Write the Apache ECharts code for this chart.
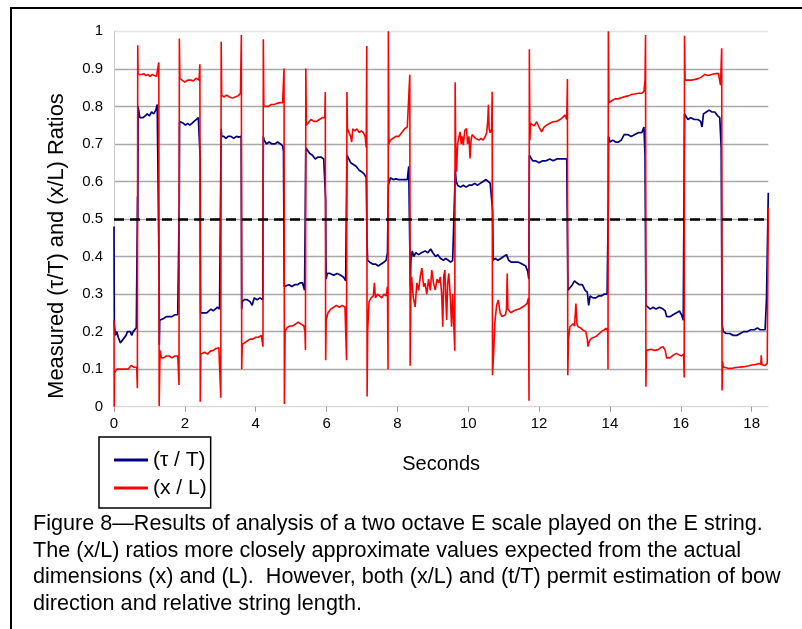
<!DOCTYPE html>
<html>
<head>
<meta charset="utf-8">
<script src="https://cdn.jsdelivr.net/npm/echarts@6/dist/echarts.min.js"></script>
<style>
  html, body { margin: 0; padding: 0; background: #fff; }
  #fig { width: 802px; height: 629px; }
</style>
</head>
<body>
<div id="fig"></div>
<script>
// tick labels
var xTicks = [0, 2, 4, 6, 8, 10, 12, 14, 16, 18];
var yTicks = [0, 0.1, 0.2, 0.3, 0.4, 0.5, 0.6, 0.7, 0.8, 0.9, 1];
var refLevel = 0.5;
var tEnd = 18.47;

// (tau / T), [seconds, ratio]
var tauT = [
  [0.000,0.48],[0.005,0.33],[0.01,0.22],[0.02,0.21],[0.04,0.19],[0.08,0.2],[0.12,0.185],[0.18,0.17],[0.22,0.165],[0.26,0.18],
  [0.3,0.185],[0.34,0.19],[0.38,0.2],[0.42,0.195],[0.46,0.2],[0.5,0.19],[0.54,0.2],[0.58,0.205],[0.63,0.21],[0.66,0.215],
  [0.665,0.56],[0.672,0.50],[0.68,0.8],
  [0.70,0.80],[0.73,0.77],[0.77,0.765],[0.82,0.77],[0.88,0.775],[0.94,0.78],[1.0,0.775],[1.06,0.785],[1.12,0.78],[1.18,0.79],[1.22,0.805],[1.26,0.8],
  [1.275,0.34],[1.28,0.165],[1.29,0.23],
  [1.33,0.235],[1.4,0.235],[1.48,0.24],[1.56,0.24],[1.64,0.24],[1.72,0.245],[1.8,0.245],[1.835,0.245],
  [1.843,0.55],[1.85,0.76],
  [1.9,0.76],[1.96,0.755],[2.02,0.75],[2.08,0.755],[2.14,0.75],[2.2,0.755],[2.26,0.76],[2.32,0.765],[2.38,0.77],[2.42,0.77],
  [2.435,0.66],[2.44,0.40],[2.445,0.25],
  [2.5,0.245],[2.56,0.25],[2.62,0.25],[2.68,0.255],[2.74,0.26],[2.8,0.255],[2.86,0.26],[2.92,0.265],[2.98,0.26],[3.015,0.265],
  [3.025,0.74],[3.04,0.72],
  [3.1,0.72],[3.16,0.715],[3.22,0.72],[3.3,0.72],[3.38,0.715],[3.46,0.72],[3.52,0.718],[3.59,0.72],
  [3.605,0.26],[3.62,0.28],
  [3.68,0.285],[3.76,0.285],[3.84,0.28],[3.9,0.27],[3.96,0.29],[4.04,0.285],[4.12,0.29],[4.2,0.285],
  [4.215,0.72],[4.24,0.71],
  [4.3,0.70],[4.38,0.705],[4.46,0.70],[4.54,0.70],[4.62,0.705],[4.7,0.70],[4.76,0.695],[4.785,0.68],
  [4.805,0.32],
  [4.86,0.32],[4.94,0.325],[5.02,0.32],[5.1,0.325],[5.18,0.325],[5.26,0.33],[5.32,0.33],[5.38,0.31],
  [5.415,0.69],
  [5.46,0.69],[5.52,0.675],[5.6,0.67],[5.68,0.66],[5.76,0.665],[5.84,0.665],[5.92,0.66],[5.96,0.66],
  [5.975,0.55],[5.98,0.42],[5.99,0.34],
  [6.02,0.355],[6.1,0.355],[6.2,0.35],[6.3,0.355],[6.4,0.35],[6.48,0.345],[6.54,0.335],[6.56,0.34],
  [6.575,0.67],
  [6.62,0.665],[6.68,0.65],[6.76,0.645],[6.84,0.64],[6.92,0.63],[7.0,0.625],[7.06,0.62],[7.12,0.61],
  [7.145,0.43],[7.16,0.39],
  [7.22,0.385],[7.3,0.38],[7.38,0.38],[7.46,0.375],[7.54,0.38],[7.62,0.385],[7.68,0.39],[7.72,0.41],
  [7.745,0.59],
  [7.8,0.61],[7.88,0.605],[7.96,0.607],[8.04,0.605],[8.12,0.605],[8.2,0.605],[8.28,0.605],[8.32,0.64],
  [8.365,0.32],[8.38,0.39],
  [8.42,0.415],[8.46,0.4],[8.52,0.41],[8.6,0.405],[8.68,0.41],[8.78,0.415],[8.86,0.41],[8.94,0.42],[9.0,0.41],[9.08,0.40],
  [9.14,0.405],[9.22,0.395],[9.3,0.39],[9.36,0.395],[9.44,0.39],[9.5,0.385],[9.56,0.39],[9.6,0.385],
  [9.635,0.63],
  [9.66,0.6],[9.7,0.59],[9.78,0.585],[9.86,0.59],[9.94,0.585],[10.02,0.59],[10.1,0.59],[10.18,0.595],[10.26,0.59],[10.34,0.595],
  [10.42,0.60],[10.5,0.605],[10.56,0.60],[10.62,0.595],[10.66,0.59],
  [10.69,0.52],[10.7,0.39],
  [10.76,0.395],[10.84,0.39],[10.92,0.395],[11.0,0.40],[11.08,0.405],[11.14,0.39],[11.22,0.385],[11.32,0.385],[11.42,0.385],
  [11.52,0.38],[11.62,0.375],[11.68,0.36],[11.71,0.34],
  [11.725,0.67],
  [11.76,0.67],[11.82,0.655],[11.9,0.655],[12.0,0.65],[12.1,0.655],[12.2,0.655],[12.3,0.66],[12.4,0.655],[12.5,0.66],[12.6,0.66],
  [12.7,0.66],[12.78,0.66],
  [12.815,0.31],
  [12.86,0.315],[12.94,0.325],[13.0,0.335],[13.06,0.33],[13.14,0.325],[13.22,0.325],[13.3,0.31],[13.36,0.305],[13.4,0.27],[13.44,0.295],
  [13.52,0.29],[13.6,0.29],[13.68,0.295],[13.76,0.295],[13.84,0.3],[13.92,0.30],
  [13.955,0.55],[13.96,0.72],
  [14.0,0.705],[14.08,0.71],[14.16,0.705],[14.24,0.705],[14.32,0.71],[14.4,0.725],[14.5,0.725],[14.6,0.72],[14.7,0.725],[14.8,0.73],
  [14.9,0.73],[14.96,0.745],[14.99,0.67],
  [15.015,0.27],
  [15.06,0.265],[15.14,0.26],[15.22,0.265],[15.3,0.26],[15.4,0.265],[15.5,0.26],[15.56,0.255],[15.6,0.24],[15.7,0.24],[15.78,0.245],
  [15.88,0.25],[15.96,0.255],[16.02,0.245],[16.07,0.23],
  [16.105,0.78],
  [16.14,0.78],[16.2,0.765],[16.28,0.77],[16.38,0.765],[16.48,0.765],[16.56,0.76],[16.6,0.745],[16.64,0.78],[16.72,0.785],[16.8,0.79],
  [16.88,0.785],[16.96,0.785],[17.04,0.775],[17.1,0.77],[17.14,0.69],
  [17.165,0.22],
  [17.2,0.2],[17.28,0.195],[17.38,0.195],[17.48,0.19],[17.58,0.19],[17.68,0.195],[17.78,0.2],[17.88,0.2],[17.98,0.205],[18.08,0.205],
  [18.16,0.21],[18.24,0.205],[18.32,0.205],[18.38,0.205],[18.42,0.29],[18.47,0.57]
];

// (x / L), [seconds, ratio]
var xL = [
  [0,0.23],[0.005,0.0],[0.015,0.09],[0.04,0.095],[0.08,0.1],[0.12,0.095],[0.16,0.1],[0.2,0.095],[0.24,0.1],[0.28,0.105],
  [0.32,0.1],[0.36,0.105],[0.4,0.1],[0.44,0.105],[0.48,0.11],[0.52,0.105],[0.56,0.105],[0.6,0.11],[0.64,0.105],
  [0.66,0.049],[0.67,0.963],[0.68,0.885],
  [0.72,0.89],[0.78,0.885],[0.84,0.887],[0.9,0.882],[0.96,0.885],[1.02,0.88],[1.08,0.885],[1.14,0.882],[1.2,0.88],[1.25,0.88],
  [1.265,0.917],[1.275,0.002],[1.3,0.15],
  [1.34,0.13],[1.4,0.13],[1.48,0.135],[1.56,0.135],[1.64,0.13],[1.72,0.135],[1.8,0.135],[1.83,0.135],
  [1.835,0.058],[1.845,0.981],[1.86,0.875],
  [1.92,0.87],[2.0,0.865],[2.08,0.87],[2.16,0.87],[2.24,0.868],[2.32,0.875],[2.4,0.87],
  [2.425,0.912],[2.435,0.013],[2.45,0.14],
  [2.5,0.14],[2.56,0.145],[2.64,0.14],[2.72,0.148],[2.8,0.15],[2.88,0.155],[2.96,0.157],[3.01,0.155],
  [3.015,0.024],[3.025,0.972],[3.04,0.83],
  [3.1,0.825],[3.18,0.83],[3.26,0.825],[3.34,0.822],[3.42,0.825],[3.5,0.828],[3.57,0.835],
  [3.595,0.99],[3.605,0.10],[3.62,0.165],
  [3.68,0.17],[3.76,0.175],[3.84,0.18],[3.92,0.18],[4.0,0.185],[4.08,0.185],[4.16,0.19],[4.2,0.185],
  [4.205,0.16],[4.215,0.979],[4.23,0.8],
  [4.28,0.795],[4.36,0.8],[4.44,0.805],[4.52,0.805],[4.6,0.808],[4.68,0.81],[4.76,0.81],[4.79,0.812],
  [4.8,0.901],[4.81,0.007],[4.83,0.2],
  [4.88,0.21],[4.96,0.215],[5.04,0.215],[5.12,0.22],[5.2,0.225],[5.28,0.22],[5.36,0.215],[5.39,0.2],
  [5.405,0.151],[5.415,0.901],[5.43,0.75],
  [5.48,0.755],[5.56,0.765],[5.64,0.76],[5.72,0.76],[5.8,0.765],[5.88,0.77],[5.95,0.77],
  [5.965,0.838],[5.975,0.124],[5.99,0.23],
  [6.04,0.25],[6.12,0.26],[6.2,0.265],[6.28,0.27],[6.36,0.265],[6.44,0.27],[6.52,0.265],[6.56,0.26],
  [6.565,0.124],[6.575,0.838],[6.59,0.74],
  [6.64,0.735],[6.68,0.72],[6.71,0.705],[6.74,0.74],[6.8,0.735],[6.86,0.74],[6.92,0.73],[6.98,0.735],[7.04,0.73],[7.09,0.72],[7.12,0.69],
  [7.135,0.961],[7.145,0.027],[7.16,0.2],
  [7.2,0.28],[7.26,0.29],[7.32,0.295],[7.35,0.33],[7.38,0.29],[7.44,0.3],[7.5,0.295],[7.56,0.29],[7.62,0.3],[7.68,0.295],[7.72,0.32],
  [7.735,0.10],[7.745,1.0],[7.76,0.70],
  [7.8,0.71],[7.88,0.715],[7.96,0.72],[8.04,0.72],[8.12,0.73],[8.2,0.74],[8.28,0.745],[8.33,0.75],
  [8.35,0.884],[8.36,0.109],[8.38,0.3],
  [8.4,0.346],[8.45,0.29],[8.5,0.266],[8.55,0.33],[8.6,0.31],[8.65,0.35],[8.69,0.369],[8.74,0.32],[8.78,0.329],[8.83,0.30],
  [8.88,0.34],[8.93,0.31],[8.97,0.364],[9.02,0.33],[9.07,0.311],[9.12,0.34],[9.17,0.33],[9.21,0.346],[9.25,0.30],[9.28,0.213],
  [9.31,0.35],[9.34,0.364],[9.37,0.28],[9.39,0.231],[9.42,0.33],[9.45,0.355],[9.49,0.3],[9.53,0.213],[9.56,0.3],[9.6,0.2],
  [9.62,0.149],[9.63,0.864],[9.645,0.70],
  [9.67,0.626],[9.7,0.7],[9.74,0.72],[9.77,0.732],[9.8,0.7],[9.83,0.72],[9.86,0.697],[9.9,0.735],[9.95,0.741],[9.98,0.7],
  [10.02,0.72],[10.05,0.661],[10.08,0.71],[10.11,0.725],[10.14,0.724],[10.2,0.715],[10.25,0.72],[10.3,0.71],[10.36,0.715],[10.42,0.71],
  [10.48,0.72],[10.52,0.73],[10.55,0.76],[10.57,0.804],[10.59,0.74],[10.62,0.73],[10.66,0.74],
  [10.675,0.839],[10.685,0.084],[10.72,0.15],
  [10.75,0.222],[10.8,0.27],[10.85,0.284],[10.9,0.25],[10.95,0.24],[11.0,0.24],[11.05,0.245],[11.08,0.26],[11.1,0.355],[11.12,0.26],
  [11.2,0.25],[11.28,0.255],[11.36,0.258],[11.44,0.26],[11.52,0.265],[11.6,0.27],[11.66,0.275],[11.7,0.29],
  [11.715,0.016],[11.725,0.952],[11.74,0.71],
  [11.76,0.755],[11.8,0.75],[11.86,0.748],[11.93,0.759],[12.0,0.745],[12.07,0.732],[12.14,0.745],[12.21,0.75],[12.3,0.755],[12.4,0.759],
  [12.5,0.76],[12.59,0.765],[12.66,0.77],[12.73,0.777],[12.78,0.765],
  [12.8,0.873],[12.81,0.084],[12.83,0.18],
  [12.87,0.213],[12.92,0.215],[12.96,0.221],[13.0,0.215],[13.04,0.275],[13.07,0.22],[13.1,0.213],[13.17,0.21],[13.24,0.204],[13.32,0.2],
  [13.36,0.18],[13.38,0.16],[13.42,0.175],[13.47,0.182],[13.55,0.185],[13.62,0.188],[13.7,0.195],[13.76,0.2],[13.84,0.205],[13.9,0.209],[13.94,0.2],
  [13.945,0.10],[13.955,1.0],[13.97,0.81],
  [14.05,0.815],[14.14,0.82],[14.23,0.82],[14.32,0.823],[14.42,0.826],[14.52,0.828],[14.61,0.832],[14.7,0.833],[14.8,0.835],[14.9,0.835],
  [14.96,0.84],[14.99,0.87],
  [15.005,0.99],[15.015,0.053],[15.03,0.15],
  [15.08,0.155],[15.17,0.153],[15.26,0.15],[15.36,0.152],[15.44,0.158],[15.5,0.16],[15.56,0.15],[15.6,0.13],[15.69,0.13],[15.78,0.137],
  [15.88,0.142],[15.95,0.138],[16.02,0.135],[16.08,0.14],
  [16.095,0.078],[16.105,0.988],[16.12,0.87],
  [16.2,0.87],[16.3,0.87],[16.4,0.872],[16.49,0.874],[16.58,0.878],[16.68,0.885],[16.78,0.882],[16.87,0.885],[16.96,0.887],[17.06,0.888],[17.12,0.857],
  [17.155,0.955],[17.165,0.043],[17.18,0.12],
  [17.2,0.106],[17.28,0.104],[17.36,0.102],[17.43,0.102],[17.52,0.104],[17.62,0.105],[17.72,0.106],[17.82,0.107],[17.92,0.109],[18.0,0.111],
  [18.1,0.112],[18.2,0.115],[18.26,0.113],[18.27,0.137],[18.29,0.112],[18.38,0.11],[18.44,0.115],[18.47,0.53]
];

var captionLines = [
  'Figure 8\u2014Results of analysis of a two octave E scale played on the E string.',
  'The (x/L) ratios more closely approximate values expected from the actual',
  'dimensions (x) and (L).  However, both (x/L) and (t/T) permit estimation of bow',
  'direction and relative string length.'
];

var fontFam = '"Liberation Sans", Arial, sans-serif';
var blue = '#000080', red = '#ff0000';

var myChart = echarts.init(document.getElementById('fig'));

// grid line colours: light at 0 and 1, grey in between
var gridColors = yTicks.map(function (v, i) {
  return (i === 0 || i === yTicks.length - 1) ? '#e4e4e4' : '#a8a8a8';
});

var graphics = [
  { type: 'line', shape: { x1: 10, y1: 8, x2: 802, y2: 8 }, style: { stroke: '#000', lineWidth: 2 } },
  { type: 'line', shape: { x1: 11, y1: 8, x2: 11, y2: 629 }, style: { stroke: '#000', lineWidth: 2 } }
];
captionLines.forEach(function (s, i) {
  graphics.push({
    type: 'text', x: 33, y: 524 + i * 26.7,
    style: { text: s, font: '21.6px ' + fontFam, fill: '#000', verticalAlign: 'middle' }
  });
});

var option = {
  animation: false,
  backgroundColor: '#fff',
  grid: { left: 114, right: 33.7, top: 31.3, bottom: 222.3 },
  legend: {
    left: 99, top: 437,
    orient: 'vertical',
    data: ['(\u03c4 / T)', '(x / L)'],
    icon: 'rect',
    itemWidth: 34, itemHeight: 3, itemGap: 4,
    padding: [11, 4, 8, 15],
    borderColor: '#000', borderWidth: 1.5,
    textStyle: { fontFamily: fontFam, fontSize: 21, lineHeight: 24, color: '#000' }
  },
  xAxis: {
    type: 'value', min: 0, max: tEnd,
    name: 'Seconds', nameLocation: 'middle', nameGap: 48,
    nameTextStyle: { fontFamily: fontFam, fontSize: 20, color: '#000' },
    axisLine: { lineStyle: { color: '#d9d9d9', width: 1 } },
    axisTick: { show: true, length: 5, customValues: xTicks, lineStyle: { color: '#999' } },
    axisLabel: { customValues: xTicks, margin: 10, fontFamily: fontFam, fontSize: 15, color: '#000' },
    splitLine: { show: false }
  },
  yAxis: {
    type: 'value', min: 0, max: 1, interval: 0.1,
    name: 'Measured (\u03c4/T) and (x/L) Ratios', nameLocation: 'middle', nameGap: 46,
    nameTextStyle: { fontFamily: fontFam, fontSize: 21.8, color: '#000', padding: [0, 54, 0, 0] },
    axisLine: { show: true, lineStyle: { color: '#c8c8c8', width: 1 } },
    axisTick: { show: false },
    axisLabel: { margin: 11, fontFamily: fontFam, fontSize: 15, color: '#000',
      formatter: function (v) { return String(Math.round(v * 10) / 10); } },
    splitLine: { show: true, lineStyle: { color: gridColors, width: 1.3 } }
  },
  series: [
    {
      name: '(\u03c4 / T)', type: 'line', data: tauT,
      symbol: 'none', lineStyle: { color: blue, width: 1.7 }, itemStyle: { color: blue }
    },
    {
      name: '(x / L)', type: 'line', data: xL,
      symbol: 'none', lineStyle: { color: red, width: 1.6 }, itemStyle: { color: red }
    },
    {
      name: 'ref', type: 'line', data: [],
      markLine: {
        silent: true, symbol: 'none', label: { show: false },
        lineStyle: { color: '#000', width: 2.5, type: [10, 6] },
        data: [{ yAxis: refLevel }]
      }
    }
  ],
  graphic: graphics
};

myChart.setOption(option);
</script>
</body>
</html>
